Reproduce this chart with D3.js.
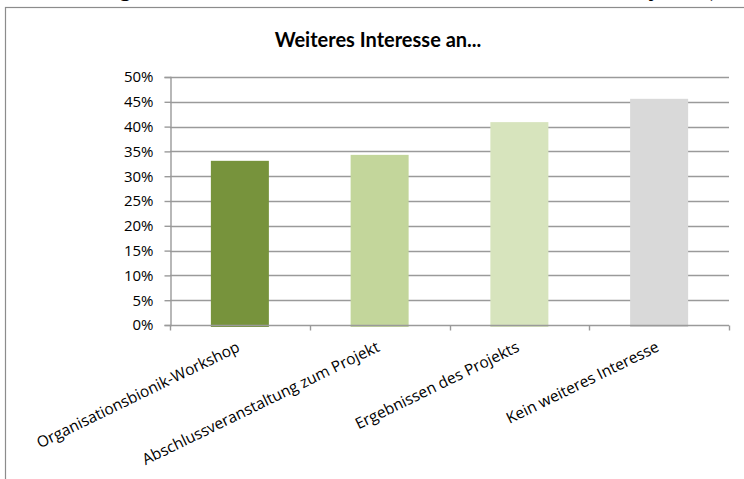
<!DOCTYPE html>
<html>
<head>
<meta charset="utf-8">
<script src="https://cdn.jsdelivr.net/npm/d3@7"></script>
<style>
body{margin:0;background:#fff;}
svg{display:block;}
</style>
</head>
<body>
<svg id="chart" width="744" height="479"></svg>
<script>
var categories=["Organisationsbionik-Workshop","Abschlussveranstaltung zum Projekt","Ergebnissen des Projekts","Kein weiteres Interesse"];
var values=[0.331,0.343,0.409,0.456];
var barColors=["#77933c","#c3d69b","#d7e4bd","#d9d9d9"];
var yTicks=[0,0.05,0.1,0.15,0.2,0.25,0.3,0.35,0.4,0.45,0.5];
var chartTitle="Weiteres Interesse an...";

var svg=d3.select("#chart");
var width=744,height=479;
var margin={left:170,right:15,top:77,bottom:154};
var gridColor="#9a9a9a";

// heading of the page above the frame, cut by the picture edge
var head=svg.append("g")
.attr("font-family","Lato, sans-serif")
.attr("font-weight","bold")
.attr("font-size","24px")
.attr("fill","#000")
head.append("text").attr("x",119).attr("y",-3).text("g")
head.append("text").attr("x",650).attr("y",-3).text("j")
head.append("text").attr("x",707).attr("y",-3).text("(")

// chart frame
svg.append("rect")
.attr("x",5.5).attr("y",7.5)
.attr("width",width+10).attr("height",height+10)
.attr("fill","#fff")
.attr("stroke","#8c8c8c")
.attr("stroke-width",1.2)

svg.append("text")
.attr("x",378).attr("y",47)
.attr("text-anchor","middle")
.attr("font-family","Lato, sans-serif")
.attr("font-weight","bold")
.attr("font-size","20px")
.attr("fill","#000")
.text(chartTitle)

var xScale=d3.scaleBand()
.domain(categories)
.range([margin.left,width-margin.right])
.padding(0)

var yScale=d3.scaleLinear()
.domain([0,0.5])
.range([height-margin.bottom,margin.top])

// gridlines
svg.append("g")
.selectAll("line")
.data(yTicks.slice(1))
.enter()
.append("line")
.attr("x1",margin.left).attr("x2",width-margin.right)
.attr("y1",d=>Math.round(yScale(d))+0.5)
.attr("y2",d=>Math.round(yScale(d))+0.5)
.attr("stroke",gridColor)
.attr("stroke-width",1.4)

// bars
var barW=xScale.bandwidth()*0.415;
svg.append("g")
.selectAll("rect")
.data(values)
.enter()
.append("rect")
.attr("x",(d,i)=>xScale(categories[i])+xScale.bandwidth()/2-barW/2)
.attr("y",d=>yScale(d))
.attr("width",barW)
.attr("height",d=>yScale(0)-yScale(d)+2)
.attr("fill",(d,i)=>barColors[i])

// y axis
var yAxis=d3.axisLeft(yScale)
.tickValues(yTicks)
.tickFormat(d3.format(".0%"))
.tickSize(6)
.tickPadding(11)

var gy=svg.append("g")
.attr("transform","translate("+(margin.left+0.5)+",0)")
.call(yAxis)
gy.select(".domain").attr("stroke",gridColor).attr("stroke-width",1.4)
gy.selectAll(".tick line").attr("stroke",gridColor).attr("stroke-width",1.4)
gy.selectAll(".tick text")
.attr("font-family","Open Sans, sans-serif")
.attr("font-size","15px")
.attr("fill","#000")

// x axis line and boundary ticks
var y0=Math.round(yScale(0))+0.5;
svg.append("line")
.attr("x1",margin.left).attr("x2",width-margin.right)
.attr("y1",y0).attr("y2",y0)
.attr("stroke",gridColor).attr("stroke-width",1.4)

var bounds=categories.map(c=>xScale(c)).concat([width-margin.right]);
svg.append("g")
.selectAll("line")
.data(bounds)
.enter()
.append("line")
.attr("x1",d=>Math.round(d)+0.5).attr("x2",d=>Math.round(d)+0.5)
.attr("y1",y0).attr("y2",y0+5)
.attr("stroke",gridColor).attr("stroke-width",1.4)

// rotated category labels
svg.append("g")
.selectAll("text")
.data(categories)
.enter()
.append("text")
.attr("transform",d=>"translate("+(xScale(d)+xScale.bandwidth()/2+1)+","+(y0+25)+") rotate(-26)")
.attr("text-anchor","end")
.attr("font-family","Open Sans, sans-serif")
.attr("font-size","15.5px")
.attr("fill","#000")
.text(d=>d)
</script>
</body>
</html>
